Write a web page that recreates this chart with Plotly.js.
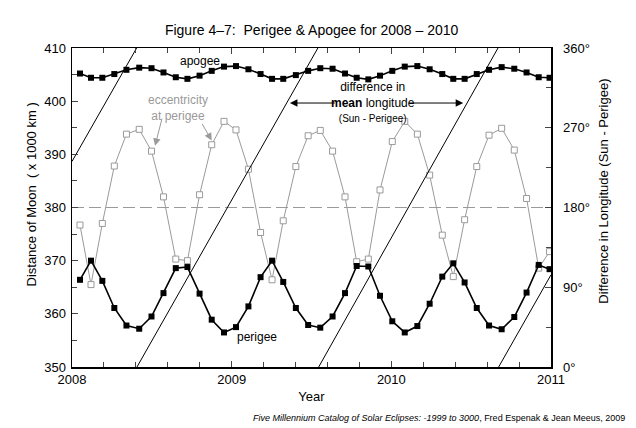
<!DOCTYPE html>
<html>
<head>
<meta charset="utf-8">
<script src="https://cdn.plot.ly/plotly-3.0.1.min.js"></script>
<style>
  html, body { margin: 0; padding: 0; background: #fff; }
  #chart { width: 636px; height: 428px; }
</style>
</head>
<body>
<div id="chart"></div>
<script>
// Times of perigee / apogee samples (decimal year)
const years = [
  2008.050, 2008.119, 2008.190, 2008.265, 2008.341, 2008.421, 2008.498, 2008.573, 2008.650, 2008.723,
  2008.799, 2008.875, 2008.952, 2009.027, 2009.105, 2009.181, 2009.253, 2009.323, 2009.402, 2009.479,
  2009.555, 2009.632, 2009.710, 2009.783, 2009.856, 2009.929, 2010.006, 2010.084, 2010.163, 2010.240,
  2010.319, 2010.388, 2010.459, 2010.535, 2010.612, 2010.691, 2010.770, 2010.847, 2010.923, 2010.991
];

// Distance of Moon (x 1000 km)
const apogee = [
  405.2, 404.4, 404.4, 405.1, 405.9, 406.3, 406.2, 405.4, 404.5, 404.2,
  404.8, 405.7, 406.5, 406.6, 406.0, 405.1, 404.2, 404.2, 404.9, 405.7,
  406.2, 406.1, 405.2, 404.4, 404.1, 404.8, 405.7, 406.5, 406.6, 406.0,
  405.1, 404.2, 404.2, 405.1, 405.9, 406.4, 406.1, 405.4, 404.5, 404.4
];
const perigee = [
  366.4, 370.0, 366.2, 361.1, 357.8, 357.2, 359.5, 363.9, 368.6, 368.8,
  363.8, 358.9, 356.5, 357.5, 361.4, 366.9, 370.0, 366.0, 361.1, 357.9,
  357.4, 359.5, 363.9, 369.0, 368.9, 363.4, 358.6, 356.5, 357.7, 361.9,
  367.0, 369.5, 365.9, 361.1, 357.8, 357.1, 359.4, 364.0, 369.2, 368.4
];
// Eccentricity at perigee (plotted against the left scale)
const eccentricity = [
  376.7, 365.5, 377.0, 387.8, 393.8, 394.7, 390.6, 382.0, 370.3, 370.0,
  382.4, 391.8, 396.2, 394.6, 387.2, 375.3, 366.4, 377.5, 387.7, 393.5,
  394.5, 390.6, 382.0, 369.8, 370.3, 383.3, 392.4, 396.2, 393.8, 386.1,
  374.8, 367.0, 377.7, 387.7, 393.6, 394.9, 390.8, 381.7, 368.6, 371.7
];

// Difference in mean longitude (Sun - Perigee), degrees, wraps at 360
const lonYears = [2008.0, 2008.405, null, 2008.407, 2009.540, null, 2009.545, 2010.668, null, 2010.672, 2011.0];
const lonDeg   = [232,    360,      null, 0,        360,      null, 0,        360,      null, 0,        104];

const degTicks  = [0, 90, 180, 270, 360];
const degLabels = ['0°', '90°', '180°', '270°', '360°'];

const midYears = [2008, 2011];
const midLine  = [380, 380];

const FONT = 'Liberation Sans, Arial, sans-serif';
const GRAY = '#9a9a9a';

const traces = [
  { x: midYears, y: midLine, mode: 'lines', line: { color: GRAY, width: 1, dash: '12px,5px' }, hoverinfo: 'skip' },
  { x: lonYears, y: lonDeg, yaxis: 'y2', mode: 'lines', line: { color: '#000', width: 1 }, connectgaps: false },
  { x: years, y: eccentricity, mode: 'lines+markers', line: { color: GRAY, width: 1 },
    marker: { symbol: 'square', size: 6, color: '#fff', line: { color: GRAY, width: 1 } } },
  { x: years, y: apogee, mode: 'lines+markers', line: { color: '#000', width: 1.6 },
    marker: { symbol: 'square', size: 6, color: '#000' } },
  { x: years, y: perigee, mode: 'lines+markers', line: { color: '#000', width: 1.6 },
    marker: { symbol: 'square', size: 6, color: '#000' } }
];

const layout = {
  width: 636, height: 428,
  margin: { l: 72, r: 85, t: 48, b: 61 },
  paper_bgcolor: '#fff', plot_bgcolor: '#fff',
  showlegend: false,
  font: { family: FONT, size: 13, color: '#000' },
  title: { text: 'Figure 4–7:  Perigee & Apogee for 2008 – 2010', font: { size: 14 },
           x: 0.49, xanchor: 'center', y: 1 - 30 / 428, yanchor: 'middle' },
  xaxis: {
    range: [2008, 2011], tickvals: [2008, 2009, 2010, 2011], tickformat: 'd',
    ticks: 'inside', ticklen: 6, tickwidth: 1, showgrid: false, zeroline: false,
    showline: true, linewidth: 1.5, linecolor: '#000', mirror: 'ticks',
    minor: { dtick: 0.2, ticks: 'inside', ticklen: 5, tickwidth: 1 },
    title: { text: 'Year', standoff: 6, font: { size: 13 } }
  },
  yaxis: {
    range: [350, 410], dtick: 10, ticks: 'inside', ticklen: 6, tickwidth: 1,
    showgrid: false, zeroline: false, showline: true, linewidth: 1.5, linecolor: '#000',
    ticklabelstandoff: 2,
    minor: { dtick: 5, ticks: 'inside', ticklen: 5, tickwidth: 1 }
  },
  yaxis2: {
    overlaying: 'y', side: 'right', range: [0, 360], tickvals: degTicks, ticktext: degLabels,
    ticks: 'inside', ticklen: 6, tickwidth: 1, ticklabelstandoff: 8,
    showgrid: false, zeroline: false, showline: true, linewidth: 1.5, linecolor: '#000',
    minor: { dtick: 45, ticks: 'inside', ticklen: 5, tickwidth: 1 }
  },
  annotations: [
    { text: 'Distance of Moon  ( x 1000 km )', xref: 'paper', yref: 'paper', x: -0.084, y: 0.54,
      xanchor: 'center', yanchor: 'middle', textangle: -90, showarrow: false, font: { size: 13 } },
    { text: 'Difference in Longitude (Sun - Perigee)', xref: 'paper', yref: 'paper', x: 1.109, y: 0.55,
      xanchor: 'center', yanchor: 'middle', textangle: -90, showarrow: false, font: { size: 13 } },
    { text: 'apogee', x: 2008.80, y: 407.5, showarrow: false, font: { size: 12 } },
    { text: 'perigee', x: 2009.16, y: 355.7, showarrow: false, font: { size: 12 } },
    { text: 'eccentricity<br>at perigee', x: 2008.664, y: 398.8, showarrow: false,
      font: { size: 12, color: GRAY } },
    { text: '', x: 2008.52, y: 391.6, ax: 2008.566, ay: 397.0, axref: 'x', ayref: 'y',
      showarrow: true, arrowhead: 2, arrowsize: 1.5, arrowwidth: 1, arrowcolor: GRAY },
    { text: '', x: 2008.875, y: 392.6, ax: 2008.81, ay: 396.0, axref: 'x', ayref: 'y',
      showarrow: true, arrowhead: 2, arrowsize: 1.5, arrowwidth: 1, arrowcolor: GRAY },
    { text: 'difference in<br><b>mean</b> longitude<br><span style="font-size:10px">(Sun - Perigee)</span>',
      x: 2009.885, y: 399.8, showarrow: false, font: { size: 12 } },
    { text: '', x: 2009.365, y: 399.65, ax: 2009.655, ay: 399.65, axref: 'x', ayref: 'y',
      showarrow: true, arrowhead: 2, arrowsize: 1.5, arrowwidth: 1, arrowcolor: '#000' },
    { text: '', x: 2010.45, y: 399.65, ax: 2010.10, ay: 399.65, axref: 'x', ayref: 'y',
      showarrow: true, arrowhead: 2, arrowsize: 1.5, arrowwidth: 1, arrowcolor: '#000' },
    { text: '<i>Five Millennium Catalog of Solar Eclipses: -1999 to 3000</i>, Fred Espenak & Jean Meeus, 2009',
      xref: 'paper', yref: 'paper', x: 1.159, y: -0.16, xanchor: 'right', yanchor: 'middle',
      showarrow: false, font: { size: 9 } }
  ]
};

Plotly.newPlot('chart', traces, layout, { displayModeBar: false, staticPlot: true });
</script>
</body>
</html>
